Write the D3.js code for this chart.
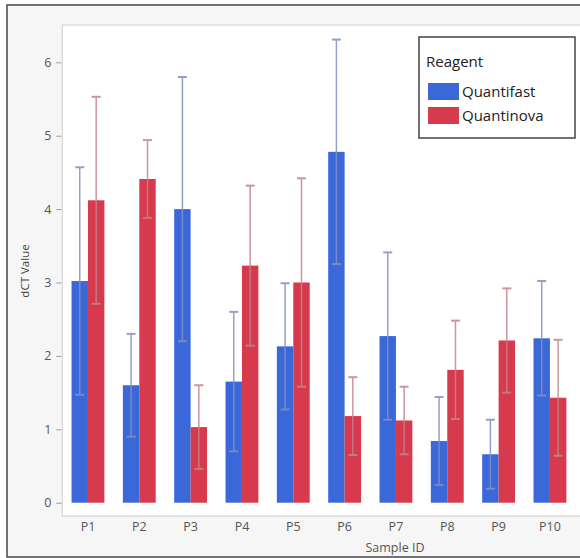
<!DOCTYPE html>
<html>
<head>
<meta charset="utf-8">
<script src="https://cdn.jsdelivr.net/npm/d3@7"></script>
<style>
html,body{margin:0;padding:0;background:#fff;}
svg{display:block;font-family:"Segoe UI","Open Sans","Noto Sans",sans-serif;}
</style>
</head>
<body>
<svg id="chart" width="580" height="558"></svg>
<script>
const categories = ["P1","P2","P3","P4","P5","P6","P7","P8","P9","P10"];
const seriesNames = ["Quantifast","Quantinova"];
const quantifast = [3.02, 1.60, 4.00, 1.65, 2.13, 4.78, 2.27, 0.84, 0.66, 2.24];
const quantifastErr = [1.55, 0.70, 1.80, 0.95, 0.86, 1.53, 1.14, 0.60, 0.47, 0.78];
const quantinova = [4.12, 4.41, 1.03, 3.23, 3.00, 1.18, 1.12, 1.81, 2.21, 1.43];
const quantinovaErr = [1.41, 0.53, 0.57, 1.09, 1.42, 0.53, 0.46, 0.67, 0.71, 0.79];
const yTicks = [0,1,2,3,4,5,6];
const colors = {Quantifast:"#3b68d9", Quantinova:"#d63a4c"};
const errColors = {Quantifast:"#8390bf", Quantinova:"#c2848d"};

const svg = d3.select("#chart");
const plot = {left:62.3, top:25, right:600, bottom:516};

// outer frame
svg.append("rect").attr("x",7).attr("y",5).attr("width",620).attr("height",552)
  .attr("fill","#f6f6f6").attr("stroke","#505050").attr("stroke-width",1.6);
// plot area
svg.append("rect").attr("x",plot.left).attr("y",plot.top)
  .attr("width",plot.right-plot.left).attr("height",plot.bottom-plot.top)
  .attr("fill","#ffffff").attr("stroke","#d4d4d4").attr("stroke-width",1.2);

const x = d3.scaleBand().domain(categories)
  .range([62.3, 62.3+513.3]).paddingInner(0.36).paddingOuter(0.18);
const xs = d3.scaleBand().domain(seriesNames).range([0, x.bandwidth()]);
const y = d3.scaleLinear().domain([0,6]).range([502.7, 502.7-6*73.4]);

const data = [];
categories.forEach((c,i)=>{
  data.push({cat:c, s:"Quantifast", v:quantifast[i], e:quantifastErr[i]});
  data.push({cat:c, s:"Quantinova", v:quantinova[i], e:quantinovaErr[i]});
});

// bars
svg.append("g").selectAll("rect").data(data).join("rect")
  .attr("x", d=>x(d.cat)+xs(d.s))
  .attr("y", d=>y(d.v))
  .attr("width", xs.bandwidth())
  .attr("height", d=>y(0)-y(d.v))
  .attr("fill", d=>colors[d.s]);

// error bars
const eg = svg.append("g").selectAll("g").data(data).join("g")
  .attr("transform", d=>`translate(${x(d.cat)+xs(d.s)+xs.bandwidth()/2},0)`)
  .attr("stroke", d=>errColors[d.s]).attr("stroke-width",1.5).attr("opacity",0.85);
eg.append("line").attr("x1",0).attr("x2",0)
  .attr("y1", d=>y(d.v+d.e)).attr("y2", d=>y(d.v-d.e));
eg.append("line").attr("x1",-4.5).attr("x2",4.5)
  .attr("y1", d=>y(d.v+d.e)).attr("y2", d=>y(d.v+d.e)).attr("stroke-width",2);
eg.append("line").attr("x1",-4.5).attr("x2",4.5)
  .attr("y1", d=>y(d.v-d.e)).attr("y2", d=>y(d.v-d.e)).attr("stroke-width",2);

// y axis
const yAxis = d3.axisLeft(y).tickValues(yTicks).tickFormat(d3.format("d")).tickSize(5).tickPadding(5);
const gy = svg.append("g").attr("transform",`translate(${plot.left-1},0)`).call(yAxis);
gy.select(".domain").remove();
gy.selectAll(".tick line").attr("stroke","#9a9a9a");
gy.selectAll(".tick text").attr("fill","#555").attr("font-size",12.5)
  .attr("font-family","'Segoe UI','Open Sans','Noto Sans',sans-serif");

// x axis
const xAxis = d3.axisBottom(x).tickSize(0).tickPadding(6);
const gx = svg.append("g").attr("transform",`translate(0,${plot.bottom})`).call(xAxis);
gx.select(".domain").remove();
gx.selectAll(".tick text").attr("fill","#555").attr("font-size",12.5)
  .attr("font-family","'Segoe UI','Open Sans','Noto Sans',sans-serif");

// axis titles
svg.append("text").attr("transform","translate(29,271) rotate(-90)")
  .attr("text-anchor","middle").attr("font-size",11.5).attr("fill","#444").text("dCT Value");
svg.append("text").attr("x",395).attr("y",552)
  .attr("text-anchor","middle").attr("font-size",12.5).attr("fill","#555").text("Sample ID");

// legend
const lg = svg.append("g");
lg.append("rect").attr("x",419).attr("y",37).attr("width",156).attr("height",101)
  .attr("fill","#fff").attr("stroke","#444").attr("stroke-width",1.5);
lg.append("text").attr("x",426).attr("y",67).attr("font-size",15).attr("fill","#222").text("Reagent");
seriesNames.forEach((s,i)=>{
  lg.append("rect").attr("x",428).attr("y",83+i*24).attr("width",31).attr("height",17)
    .attr("fill",colors[s]);
  lg.append("text").attr("x",462).attr("y",97+i*24).attr("font-size",15).attr("fill","#222").text(s);
});
</script>
</body>
</html>
